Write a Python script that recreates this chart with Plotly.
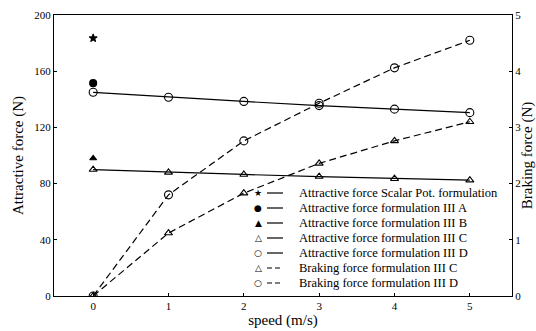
import plotly.graph_objects as go

speed = [0, 1, 2, 3, 4, 5]
scalar_pot = [183.5]
form_a = [151.5]
form_b = [98]
attr_c = [90, 88, 86.5, 85, 83.5, 82.5]
attr_d = [145, 141.5, 138.5, 135.5, 133, 130.5]
brake_c = [0, 1.12, 1.83, 2.36, 2.76, 3.10]
brake_d = [0, 1.80, 2.76, 3.43, 4.06, 4.55]

legend_names = [
    "Attractive force Scalar Pot. formulation",
    "Attractive force formulation III A",
    "Attractive force formulation III B",
    "Attractive force formulation III C",
    "Attractive force formulation III D",
    "Braking force formulation III C",
    "Braking force formulation III D",
]
legend_glyphs = ["★", "●", "▲", "△", "○", "△", "○"]
legend_dash = ["solid", "solid", "solid", "solid", "solid", "dash", "dash"]

FONT = "Liberation Serif"
DASH = "7px,4px"
fig = go.Figure()

def add(x, y, name, symbol, dash="solid", yaxis="y", size=7):
    fig.add_trace(go.Scatter(
        x=x, y=y, name=name, mode="lines+markers", yaxis=yaxis, showlegend=False,
        line=dict(color="black", width=1.2, dash=dash),
        marker=dict(symbol=symbol, size=size, color="black",
                    line=dict(color="black", width=1.1)),
    ))

add([0], scalar_pot, legend_names[0], "star", size=6)
add([0], form_a, legend_names[1], "circle", size=7)
add([0], form_b, legend_names[2], "triangle-up", size=6)
add(speed, attr_c, legend_names[3], "triangle-up-open", size=7)
add(speed, attr_d, legend_names[4], "circle-open", size=8)
add(speed, brake_c, legend_names[5], "triangle-up-open", dash=DASH, yaxis="y2", size=7)
add(speed, brake_d, legend_names[6], "circle-open", dash=DASH, yaxis="y2", size=8)

# custom legend (pixel layout converted to paper coordinates)
L, R, T, B = 54, 24, 15, 35
W, H = 536, 331
pw, ph = W - L - R, H - T - B
def px(xp):
    return (xp - L) / pw
def py(yp):
    return (H - B - yp) / ph

annotations = []
shapes = []
for i, (name, glyph, dsh) in enumerate(zip(legend_names, legend_glyphs, legend_dash)):
    yrow = 193 + 15 * i
    annotations.append(dict(x=px(258), y=py(yrow), xref="paper", yref="paper",
                            text=glyph, showarrow=False, xanchor="center", yanchor="middle",
                            font=dict(family="DejaVu Sans", size=9, color="black")))
    annotations.append(dict(x=px(297), y=py(yrow), xref="paper", yref="paper",
                            text=name, showarrow=False, xanchor="left", yanchor="middle",
                            font=dict(family=FONT, size=12.5, color="black")))
    shapes.append(dict(type="line", xref="paper", yref="paper",
                       x0=px(267), x1=px(283), y0=py(yrow), y1=py(yrow),
                       line=dict(color="black", width=1.2,
                                 dash="solid" if dsh == "solid" else "5px,3px")))

axis_common = dict(showline=True, linecolor="black", linewidth=1.2, ticks="inside",
                   ticklen=3, tickcolor="black", showgrid=False, zeroline=False,
                   automargin=False,
                   tickfont=dict(family=FONT, size=11, color="black"))

fig.update_layout(
    width=W, height=H,
    margin=dict(l=L, r=R, t=T, b=B),
    paper_bgcolor="white", plot_bgcolor="white",
    font=dict(family=FONT, color="black"),
    showlegend=False,
    annotations=annotations,
    shapes=shapes,
    xaxis=dict(range=[-0.52, 5.56], tickvals=speed, mirror=True,
               title=dict(text="speed (m/s)", font=dict(family=FONT, size=15), standoff=0),
               **axis_common),
    yaxis=dict(range=[0, 200], tickvals=[0, 40, 80, 120, 160, 200],
               title=dict(text="Attractive force (N)", font=dict(family=FONT, size=15), standoff=6),
               **axis_common),
    yaxis2=dict(range=[0, 5], tickvals=[0, 1, 2, 3, 4, 5], overlaying="y", side="right",
                title=dict(text="Braking force (N)", font=dict(family=FONT, size=15), standoff=2),
                **axis_common),
)

fig.write_html("out.html", config={"displayModeBar": False},
               post_script="document.body.style.margin='0';document.body.style.overflow='hidden';")
